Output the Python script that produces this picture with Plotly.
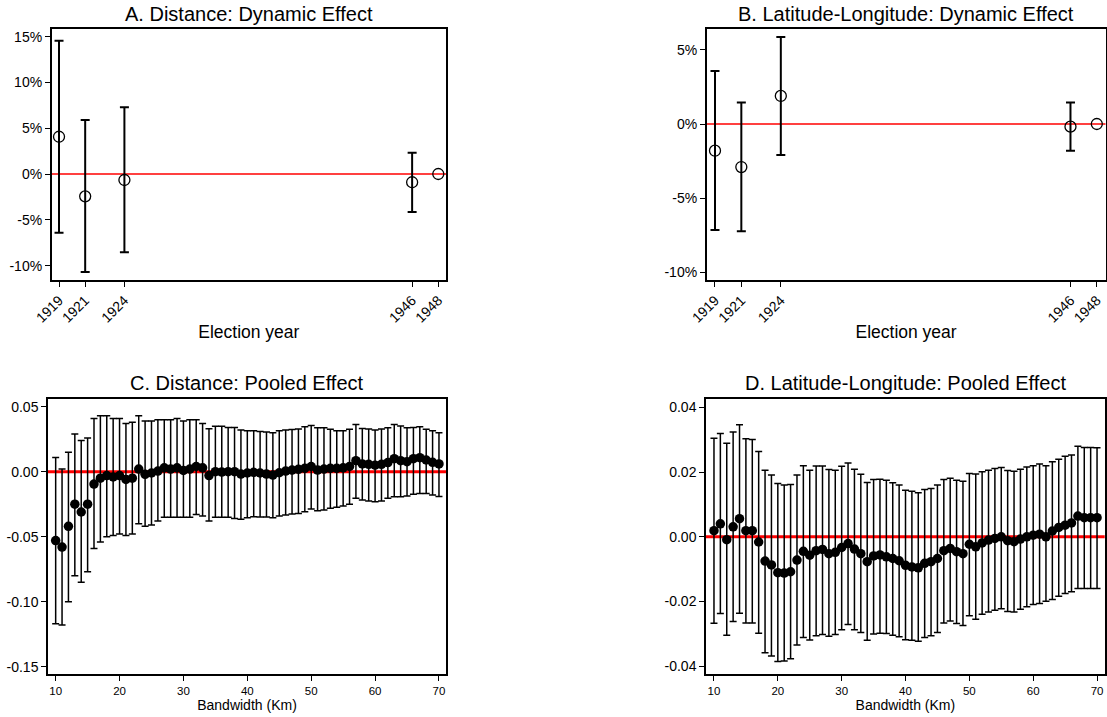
import plotly.graph_objects as go

# ---------------- Data ----------------
years = [1919, 1921, 1924, 1946, 1948]
year_labels = ["1919", "1921", "1924", "1946", "1948"]

# Panel A (percent)
a_est = [4.07, -2.44, -0.65, -0.9, 0.0]
a_low = [-6.4, -10.7, -8.55, -4.15, 0.0]
a_high = [14.56, 5.9, 7.3, 2.33, 0.0]

# Panel B (percent)
b_est = [-1.8, -2.9, 1.89, -0.18, 0.0]
b_low = [-7.14, -7.23, -2.09, -1.8, 0.0]
b_high = [3.57, 1.44, 5.86, 1.44, 0.0]

a_ytick_vals = [15, 10, 5, 0, -5, -10]
a_ytick_text = ["15%", "10%", "5%", "0%", "-5%", "-10%"]
b_ytick_vals = [5, 0, -5, -10]
b_ytick_text = ["5%", "0%", "-5%", "-10%"]

bandwidth = list(range(10, 71))

c_est = [-0.053, -0.058, -0.042, -0.025, -0.031, -0.025, -0.0095, -0.005, -0.003, -0.004,
         -0.003, -0.006, -0.005, 0.002, -0.002, -0.001, 0.0005, 0.003, 0.002, 0.003,
         0.001, 0.002, 0.004, 0.003, -0.003, 0.0, -0.0003, 0.0, 0.0, -0.0018,
         -0.001, -0.0005, -0.001, -0.0018, -0.0026, -0.0008, 0.0005, 0.0013, 0.0018, 0.0026,
         0.004, 0.0013, 0.002, 0.0026, 0.0026, 0.003, 0.004, 0.0085, 0.006, 0.0057,
         0.005, 0.0057, 0.007, 0.010, 0.0085, 0.0077, 0.010, 0.0108, 0.009, 0.0072,
         0.006]
c_high = [0.011, 0.002, 0.015, 0.029, 0.024, 0.026, 0.041, 0.043, 0.043, 0.041,
          0.041, 0.037, 0.038, 0.043, 0.039, 0.039, 0.040, 0.040, 0.040, 0.041,
          0.039, 0.040, 0.040, 0.037, 0.033, 0.035, 0.035, 0.034, 0.034, 0.032,
          0.0315, 0.0315, 0.031, 0.0305, 0.030, 0.0315, 0.032, 0.0325, 0.0328, 0.0346,
          0.0356, 0.0338, 0.0338, 0.0326, 0.0315, 0.0315, 0.0326, 0.0364, 0.0333, 0.0328,
          0.032, 0.0328, 0.0338, 0.0364, 0.0351, 0.0338, 0.0341, 0.0346, 0.0326, 0.0315,
          0.030]
c_low = [-0.117, -0.118, -0.100, -0.080, -0.085, -0.077, -0.059, -0.054, -0.050, -0.049,
         -0.048, -0.049, -0.048, -0.040, -0.042, -0.041, -0.038, -0.035, -0.035, -0.035,
         -0.035, -0.035, -0.033, -0.034, -0.038, -0.035, -0.035, -0.035, -0.0359, -0.0366,
         -0.0354, -0.0346, -0.0349, -0.0349, -0.0354, -0.0341, -0.0333, -0.0326, -0.0321, -0.0308,
         -0.0287, -0.030, -0.0295, -0.0282, -0.0274, -0.0264, -0.0251, -0.0205, -0.0218, -0.0226,
         -0.0231, -0.0226, -0.0205, -0.0192, -0.0192, -0.0187, -0.0174, -0.0167, -0.0167, -0.018,
         -0.019]

d_est = [0.0019, 0.0040, -0.0009, 0.0031, 0.0056, 0.0019, 0.0019, -0.0016, -0.0075, -0.0087,
         -0.0111, -0.0112, -0.0108, -0.0072, -0.0045, -0.0057, -0.0043, -0.0039, -0.0052, -0.0048,
         -0.0033, -0.0021, -0.0038, -0.0052, -0.0077, -0.0059, -0.0056, -0.0062, -0.0067, -0.0074,
         -0.0088, -0.0093, -0.0096, -0.0082, -0.0077, -0.0067, -0.0043, -0.0036, -0.0046, -0.0052,
         -0.0023, -0.0031, -0.0019, -0.0010, -0.0005, 0.0, -0.0012, -0.0015, -0.0007, 0.0,
         0.0005, 0.0008, 0.0, 0.0018, 0.0029, 0.0036, 0.0043, 0.0064, 0.0059, 0.0059,
         0.0059]
d_high = [0.0305, 0.0319, 0.0289, 0.0324, 0.0346, 0.0303, 0.0301, 0.0264, 0.0206, 0.0191,
          0.0165, 0.0160, 0.0162, 0.0191, 0.0220, 0.0206, 0.0219, 0.0219, 0.0208, 0.0206,
          0.0218, 0.0228, 0.0209, 0.0193, 0.0168, 0.0177, 0.0178, 0.0175, 0.0167, 0.0160,
          0.0144, 0.0141, 0.0136, 0.0146, 0.0149, 0.0160, 0.0177, 0.0181, 0.0175, 0.0172,
          0.0196, 0.0194, 0.0201, 0.0206, 0.0211, 0.0214, 0.0205, 0.0203, 0.0209, 0.0216,
          0.0220, 0.0225, 0.0220, 0.0232, 0.0240, 0.0249, 0.0253, 0.0280, 0.0276, 0.0276,
          0.0275]
d_low = [-0.0267, -0.0237, -0.0304, -0.0262, -0.0236, -0.0266, -0.0266, -0.0298, -0.0358, -0.0368,
         -0.0385, -0.0384, -0.0377, -0.0334, -0.0311, -0.0319, -0.0306, -0.0302, -0.0307, -0.0302,
         -0.0287, -0.0271, -0.0287, -0.0296, -0.0320, -0.0300, -0.0298, -0.0299, -0.0304, -0.0309,
         -0.0318, -0.0320, -0.0323, -0.0311, -0.0306, -0.0296, -0.0266, -0.0260, -0.0268, -0.0274,
         -0.0244, -0.0255, -0.0239, -0.0232, -0.0227, -0.0222, -0.0231, -0.0232, -0.0224, -0.0216,
         -0.0209, -0.0206, -0.0199, -0.0194, -0.0184, -0.0175, -0.0170, -0.0160, -0.0160, -0.0160,
         -0.0160]

c_ytick_vals = [0.05, 0.0, -0.05, -0.10, -0.15]
c_ytick_text = ["0.05", "0.00", "-0.05", "-0.10", "-0.15"]
d_ytick_vals = [0.04, 0.02, 0.0, -0.02, -0.04]
d_ytick_text = ["0.04", "0.02", "0.00", "-0.02", "-0.04"]
bw_ticks = [10, 20, 30, 40, 50, 60, 70]

titles = ["A. Distance: Dynamic Effect", "B. Latitude-Longitude: Dynamic Effect",
          "C. Distance: Pooled Effect", "D. Latitude-Longitude: Pooled Effect"]

# ---------------- Figure ----------------
W, H = 1107, 717
FONT = "Liberation Sans, Arial, sans-serif"

def px_dom_x(l, r):
    return [l / W, r / W]

def px_dom_y(top, bottom):
    return [1 - bottom / H, 1 - top / H]

fig = go.Figure()

def err_plus(est, high):
    return [h - e for e, h in zip(est, high)]

def err_minus(est, low):
    return [e - l for e, l in zip(est, low)]

open_marker = dict(symbol="circle-open", size=11, color="black", line=dict(width=1.3))

# Panel A
fig.add_trace(go.Scatter(
    x=years[:4], y=a_est[:4], mode="markers", xaxis="x", yaxis="y", marker=open_marker,
    error_y=dict(type="data", symmetric=False, array=err_plus(a_est[:4], a_high[:4]),
                 arrayminus=err_minus(a_est[:4], a_low[:4]), color="black", thickness=2, width=4.5),
    showlegend=False))
fig.add_trace(go.Scatter(
    x=years[4:], y=a_est[4:], mode="markers", xaxis="x", yaxis="y", marker=open_marker,
    showlegend=False))

# Panel B
fig.add_trace(go.Scatter(
    x=years[:4], y=b_est[:4], mode="markers", xaxis="x2", yaxis="y2", marker=open_marker,
    error_y=dict(type="data", symmetric=False, array=err_plus(b_est[:4], b_high[:4]),
                 arrayminus=err_minus(b_est[:4], b_low[:4]), color="black", thickness=2, width=4.5),
    showlegend=False))
fig.add_trace(go.Scatter(
    x=years[4:], y=b_est[4:], mode="markers", xaxis="x2", yaxis="y2", marker=open_marker,
    showlegend=False))

# Panel C
fig.add_trace(go.Scatter(
    x=bandwidth, y=c_est, mode="markers", xaxis="x3", yaxis="y3",
    marker=dict(symbol="circle", size=9.5, color="black"),
    error_y=dict(type="data", symmetric=False, array=err_plus(c_est, c_high),
                 arrayminus=err_minus(c_est, c_low), color="black", thickness=1.5, width=3.5),
    showlegend=False))

# Panel D
fig.add_trace(go.Scatter(
    x=bandwidth, y=d_est, mode="markers", xaxis="x4", yaxis="y4",
    marker=dict(symbol="circle", size=9.5, color="black"),
    error_y=dict(type="data", symmetric=False, array=err_plus(d_est, d_high),
                 arrayminus=err_minus(d_est, d_low), color="black", thickness=1.5, width=3.5),
    showlegend=False))

axis_common = dict(showline=True, linecolor="black", linewidth=1.5, mirror=True,
                   ticks="outside", ticklen=5, tickwidth=1, tickcolor="black",
                   showgrid=False, zeroline=False, color="black", automargin=False)

year_axis = dict(axis_common, tickmode="array", tickvals=years, ticktext=year_labels,
                 tickangle=-45, tickfont=dict(size=14),
                 title=dict(text="Election year", font=dict(size=17.5), standoff=1))
bw_axis = dict(axis_common, tickmode="array", tickvals=bw_ticks,
               ticktext=[str(v) for v in bw_ticks], tickfont=dict(size=11.5),
               title=dict(text="Bandwidth (Km)", font=dict(size=14), standoff=4))

fig.update_layout(
    width=W, height=H, margin=dict(l=0, r=0, t=0, b=0, autoexpand=False),
    paper_bgcolor="white", plot_bgcolor="white",
    font=dict(family=FONT, color="black"),
    xaxis=dict(year_axis, domain=px_dom_x(51.7, 446), range=[1918.44, 1948.59], anchor="y"),
    yaxis=dict(axis_common, domain=px_dom_y(29.3, 280), range=[-11.57, 15.8], anchor="x",
               tickmode="array", tickvals=a_ytick_vals, ticktext=a_ytick_text, tickfont=dict(size=14)),
    xaxis2=dict(year_axis, domain=px_dom_x(706.7, 1105.5), range=[1918.37, 1948.66], anchor="y2"),
    yaxis2=dict(axis_common, domain=px_dom_y(29.3, 280), range=[-10.51, 6.38], anchor="x2",
                tickmode="array", tickvals=b_ytick_vals, ticktext=b_ytick_text, tickfont=dict(size=14)),
    xaxis3=dict(bw_axis, domain=px_dom_x(48, 446), range=[8.8, 71.1], anchor="y3"),
    yaxis3=dict(axis_common, domain=px_dom_y(399.3, 674), range=[-0.1556, 0.0557], anchor="x3",
                tickmode="array", tickvals=c_ytick_vals, ticktext=c_ytick_text, tickfont=dict(size=14)),
    xaxis4=dict(bw_axis, domain=px_dom_x(706, 1104.7), range=[8.75, 71.2], anchor="y4"),
    yaxis4=dict(axis_common, domain=px_dom_y(399.3, 674), range=[-0.0424, 0.0425], anchor="x4",
                tickmode="array", tickvals=d_ytick_vals, ticktext=d_ytick_text, tickfont=dict(size=14)),
)

# Red reference lines at zero
for ax, w in [("", 1.5), ("2", 1.5), ("3", 3), ("4", 3)]:
    fig.add_shape(type="line", xref=f"x{ax} domain", yref=f"y{ax}", x0=0, x1=1, y0=0, y1=0,
                  line=dict(color="red", width=w), layer="below")

# Panel titles
title_pos = [("x domain", 14), ("x2 domain", 14), ("x3 domain", 383), ("x4 domain", 383)]
for t, (xr, ypx) in zip(titles, title_pos):
    fig.add_annotation(text=t, xref=xr, x=0.5, yref="paper", y=1 - ypx / H,
                       xanchor="center", yanchor="middle", showarrow=False,
                       font=dict(size=20, color="black", family=FONT))

fig.write_html("out.html", config={"displayModeBar": False},
               post_script="document.body.style.margin='0';document.body.style.overflow='hidden';")
